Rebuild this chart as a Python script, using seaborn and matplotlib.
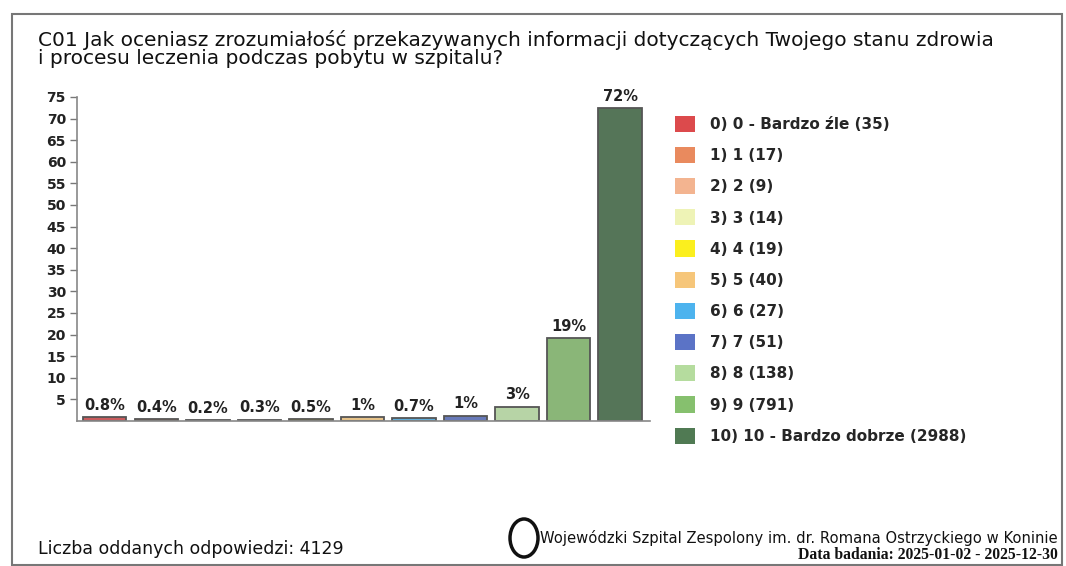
import numpy as np
import pandas as pd
import matplotlib.pyplot as plt
import matplotlib.patches as mpatches
import seaborn as sns

categories = ['0) 0 - Bardzo źle', '1) 1', '2) 2', '3) 3', '4) 4', '5) 5',
              '6) 6', '7) 7', '8) 8', '9) 9', '10) 10 - Bardzo dobrze']
counts = [35, 17, 9, 14, 19, 40, 27, 51, 138, 791, 2988]
pct_labels = ['0.8%', '0.4%', '0.2%', '0.3%', '0.5%', '1%',
              '0.7%', '1%', '3%', '19%', '72%']
colors = ['#dc4a4c', '#e98a5e', '#f3b490', '#eef3b6', '#fbef1e', '#f6c67a',
          '#4db3ee', '#5b73c6', '#b5dc9e', '#86c06e', '#507a53']
y_ticks = list(range(5, 80, 5))
title_lines = ['C01 Jak oceniasz zrozumiałość przekazywanych informacji dotyczących Twojego stanu zdrowia',
               'i procesu leczenia podczas pobytu w szpitalu?']

total = sum(counts)
df = pd.DataFrame({'cat': categories, 'count': counts})
df['pct'] = df['count'] / total * 100

sns.set_style('white')
plt.rcParams['font.family'] = ['DejaVu Sans']

fig = plt.figure(figsize=(10.66, 5.66), dpi=100)
ax = fig.add_axes([77 / 1066, 1 - 421 / 566, (650 - 77) / 1066, (421 - 97) / 566])

sns.barplot(data=df, x='cat', y='pct', hue='cat', palette=colors, legend=False,
            width=0.84, edgecolor='#555555', linewidth=1.3, ax=ax)

ax.set_ylim(0, 75)
ax.set_xlim(-0.54, 10.58)
ax.set_yticks(y_ticks)
ax.set_yticklabels([str(t) for t in y_ticks], fontsize=10, fontweight='bold', color='#222222')
ax.set_xticks([])
ax.set_xlabel('')
ax.set_ylabel('')
ax.tick_params(axis='y', length=5, width=1, color='#777777', pad=3, left=True)
for side in ['top', 'right']:
    ax.spines[side].set_visible(False)
for side in ['left', 'bottom']:
    ax.spines[side].set_color('#888888')
    ax.spines[side].set_linewidth(1.2)

# Percentage labels above bars
for i, (val, lab) in enumerate(zip(df['pct'], pct_labels)):
    ax.annotate(lab, (i, val), xytext=(0, 3), textcoords='offset points',
                ha='center', va='bottom', fontsize=10.5, fontweight='bold', color='#222222')

# Legend
handles = [mpatches.Patch(facecolor=c, edgecolor='none',
                          label=f'{cat} ({n})') for c, cat, n in zip(colors, categories, counts)]
fig.legend(handles=handles, loc='upper left', bbox_to_anchor=(661 / 1066, 1 - 102 / 566),
           frameon=False, handlelength=1.3, handleheight=1.25,
           labelspacing=0.98, handletextpad=1.0, prop={'size': 11, 'weight': 'bold'})

# Title (two lines placed separately for tight spacing)
for line, base in zip(title_lines, [46, 64]):
    fig.text(38 / 1066, 1 - base / 566, line, ha='left', va='baseline',
             fontsize=14.5, color='#111111')

# Footer
fig.text(38 / 1066, 1 - 549 / 566, 'Liczba oddanych odpowiedzi: 4129',
         ha='left', va='center', fontsize=12.5, color='#111111')
fig.text(1058 / 1066, 1 - 538 / 566,
         'Wojewódzki Szpital Zespolony im. dr. Romana Ostrzyckiego w Koninie',
         ha='right', va='center', fontsize=10.6, color='#111111')
fig.text(1058 / 1066, 1 - 555 / 566, 'Data badania: 2025-01-02 - 2025-12-30',
         ha='right', va='center', fontsize=11.3, fontweight='bold', color='#111111',
         family=['Liberation Serif', 'DejaVu Serif'])

# Logo placeholder (circle)
fig.add_artist(mpatches.Ellipse((524 / 1066, 1 - 538 / 566), 28 / 1066, 38 / 566,
                                transform=fig.transFigure, fill=False,
                                edgecolor='#111111', linewidth=2.5))

# Outer frame
fig.add_artist(mpatches.Rectangle((12 / 1066, 1 - 565 / 566), (1062 - 12) / 1066, (565 - 14) / 566,
                                  transform=fig.transFigure, fill=False,
                                  edgecolor='#777777', linewidth=1.5))

fig.savefig('out.png', dpi=100)
